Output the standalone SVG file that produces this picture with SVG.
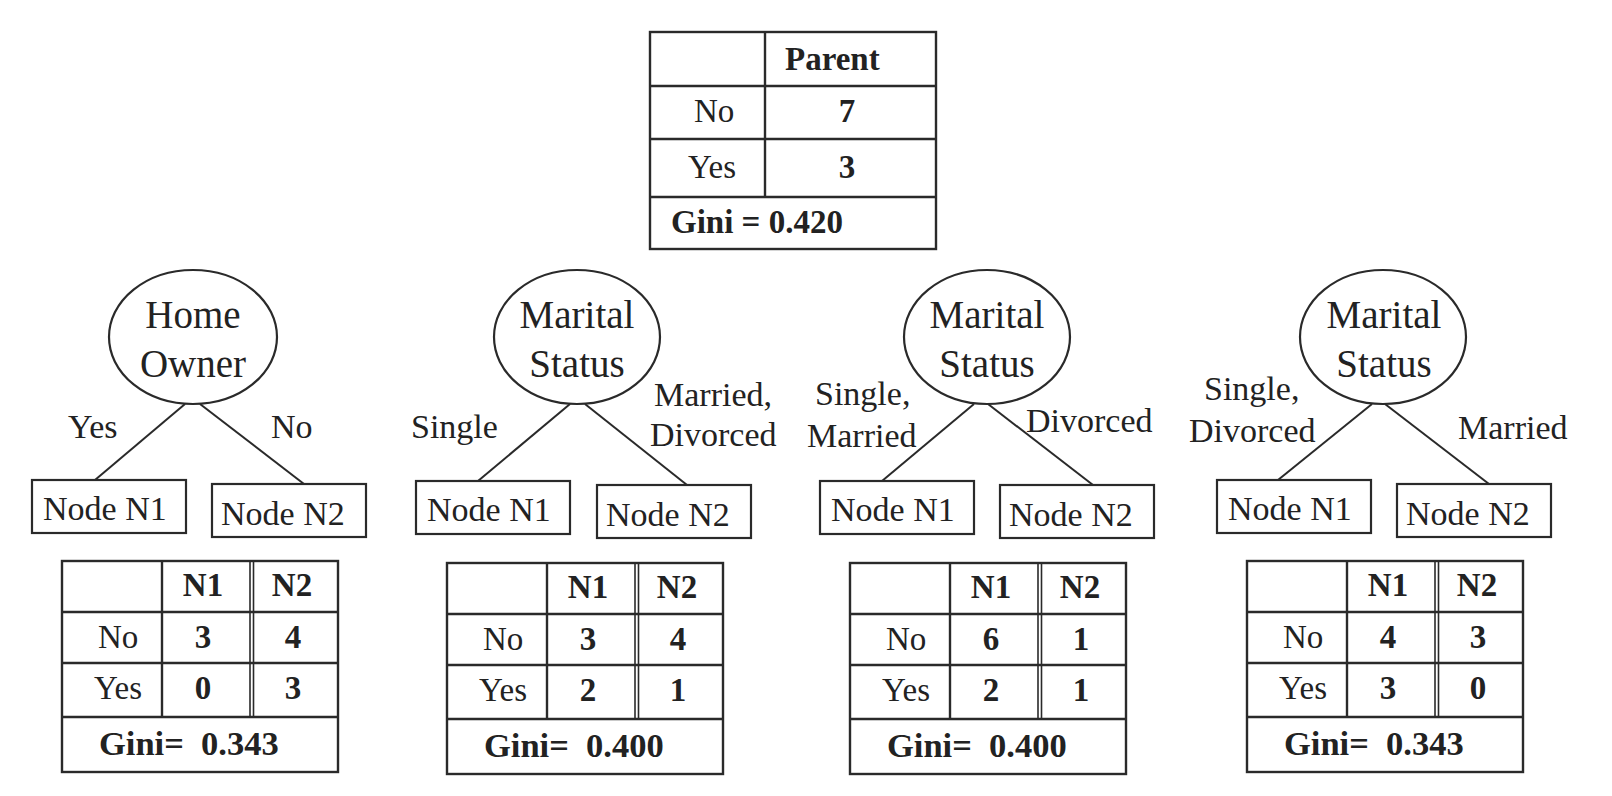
<svg xmlns="http://www.w3.org/2000/svg" width="1612" height="796" viewBox="0 0 1612 796">
<style>
text{font-family:"Liberation Serif","Times New Roman",serif;fill:#222;}
.e{font-size:39px;text-anchor:middle;}
.lb{font-size:34px;}
.nd{font-size:34px;}
.t{font-size:33px;}
.b{font-size:33px;font-weight:bold;}
.g{font-size:34.5px;font-weight:bold;}
.m{text-anchor:middle;}
.s{fill:#fff;stroke:#2a2a2a;stroke-width:2.2;}
.ln{stroke:#2a2a2a;stroke-width:2;fill:none;}
.tl{stroke:#2a2a2a;stroke-width:2.4;fill:none;}
.dl{stroke:#2a2a2a;stroke-width:1.6;fill:none;}
</style>
<defs>
<g id="grid">
<rect class="tl" x="0" y="0" width="276" height="211" fill="#fff"/>
<line class="tl" x1="0" y1="51" x2="276" y2="51"/>
<line class="tl" x1="0" y1="102" x2="276" y2="102"/>
<line class="tl" x1="0" y1="156" x2="276" y2="156"/>
<line class="tl" x1="100" y1="0" x2="100" y2="156"/>
<line class="dl" x1="188" y1="0" x2="188" y2="156"/>
<line class="dl" x1="191.5" y1="0" x2="191.5" y2="156"/>
<text class="b m" x="141" y="35">N1</text>
<text class="b m" x="230" y="35">N2</text>
<text class="t" x="36" y="87">No</text>
<text class="t" x="32" y="138">Yes</text>
</g>
</defs>

<g id="parent">
<rect class="tl" x="650" y="32" width="286" height="217" fill="#fff"/>
<line class="tl" x1="650" y1="86" x2="936" y2="86"/>
<line class="tl" x1="650" y1="139" x2="936" y2="139"/>
<line class="tl" x1="650" y1="197" x2="936" y2="197"/>
<line class="tl" x1="765" y1="32" x2="765" y2="197"/>
<text class="b" x="785" y="70">Parent</text>
<text class="t" x="694" y="122">No</text>
<text class="b m" x="847" y="122">7</text>
<text class="t" x="688" y="178">Yes</text>
<text class="b m" x="847" y="178">3</text>
<text class="b" x="671" y="233">Gini = 0.420</text>
</g>

<g id="connectors">
<line class="ln" x1="185" y1="404" x2="95" y2="480"/>
<line class="ln" x1="200" y1="404" x2="304" y2="484"/>
<line class="ln" x1="570" y1="404" x2="478" y2="481"/>
<line class="ln" x1="585" y1="404" x2="687" y2="485"/>
<line class="ln" x1="974" y1="404" x2="882" y2="481"/>
<line class="ln" x1="988" y1="404" x2="1093" y2="485"/>
<line class="ln" x1="1372" y1="404" x2="1278" y2="480"/>
<line class="ln" x1="1385" y1="404" x2="1489" y2="484"/>
</g>

<g id="labels">
<text class="lb" x="68" y="438">Yes</text>
<text class="lb" x="271" y="438">No</text>
<text class="lb" x="411" y="438">Single</text>
<text class="lb" x="654" y="406">Married,</text>
<text class="lb" x="650" y="446">Divorced</text>
<text class="lb" x="815" y="405">Single,</text>
<text class="lb" x="807" y="447">Married</text>
<text class="lb" x="1026" y="432">Divorced</text>
<text class="lb" x="1204" y="400">Single,</text>
<text class="lb" x="1189" y="442">Divorced</text>
<text class="lb" x="1458" y="439">Married</text>
</g>

<g id="split1">
<ellipse class="s" cx="193" cy="337" rx="84" ry="67"/>
<text class="e" x="193" y="328">Home</text>
<text class="e" x="193" y="377">Owner</text>
</g>
<g id="split2">
<ellipse class="s" cx="577" cy="337" rx="83" ry="67"/>
<text class="e" x="577" y="328">Marital</text>
<text class="e" x="577" y="377">Status</text>
</g>
<g id="split3">
<ellipse class="s" cx="987" cy="337" rx="83" ry="67"/>
<text class="e" x="987" y="328">Marital</text>
<text class="e" x="987" y="377">Status</text>
</g>
<g id="split4">
<ellipse class="s" cx="1383" cy="337" rx="83" ry="67"/>
<text class="e" x="1384" y="328">Marital</text>
<text class="e" x="1384" y="377">Status</text>
</g>

<g id="t1n1"><rect class="s" x="32" y="480" width="154" height="53"/><text class="nd" x="43" y="520">Node N1</text></g>
<g id="t1n2"><rect class="s" x="212" y="484" width="154" height="53"/><text class="nd" x="221" y="525">Node N2</text></g>
<g id="t2n1"><rect class="s" x="416" y="481" width="154" height="53"/><text class="nd" x="427" y="521">Node N1</text></g>
<g id="t2n2"><rect class="s" x="597" y="485" width="154" height="53"/><text class="nd" x="606" y="526">Node N2</text></g>
<g id="t3n1"><rect class="s" x="820" y="481" width="154" height="53"/><text class="nd" x="831" y="521">Node N1</text></g>
<g id="t3n2"><rect class="s" x="1000" y="485" width="154" height="53"/><text class="nd" x="1009" y="526">Node N2</text></g>
<g id="t4n1"><rect class="s" x="1217" y="480" width="154" height="53"/><text class="nd" x="1228" y="520">Node N1</text></g>
<g id="t4n2"><rect class="s" x="1397" y="484" width="154" height="53"/><text class="nd" x="1406" y="525">Node N2</text></g>

<g id="table1" transform="translate(62,561)">
<use href="#grid"/>
<text class="b m" x="141" y="87">3</text><text class="b m" x="231" y="87">4</text>
<text class="b m" x="141" y="138">0</text><text class="b m" x="231" y="138">3</text>
<text class="g" x="37" y="194" xml:space="preserve">Gini=  0.343</text>
</g>
<g id="table2" transform="translate(447,563)">
<use href="#grid"/>
<text class="b m" x="141" y="87">3</text><text class="b m" x="231" y="87">4</text>
<text class="b m" x="141" y="138">2</text><text class="b m" x="231" y="138">1</text>
<text class="g" x="37" y="194" xml:space="preserve">Gini=  0.400</text>
</g>
<g id="table3" transform="translate(850,563)">
<use href="#grid"/>
<text class="b m" x="141" y="87">6</text><text class="b m" x="231" y="87">1</text>
<text class="b m" x="141" y="138">2</text><text class="b m" x="231" y="138">1</text>
<text class="g" x="37" y="194" xml:space="preserve">Gini=  0.400</text>
</g>
<g id="table4" transform="translate(1247,561)">
<use href="#grid"/>
<text class="b m" x="141" y="87">4</text><text class="b m" x="231" y="87">3</text>
<text class="b m" x="141" y="138">3</text><text class="b m" x="231" y="138">0</text>
<text class="g" x="37" y="194" xml:space="preserve">Gini=  0.343</text>
</g>
</svg>
